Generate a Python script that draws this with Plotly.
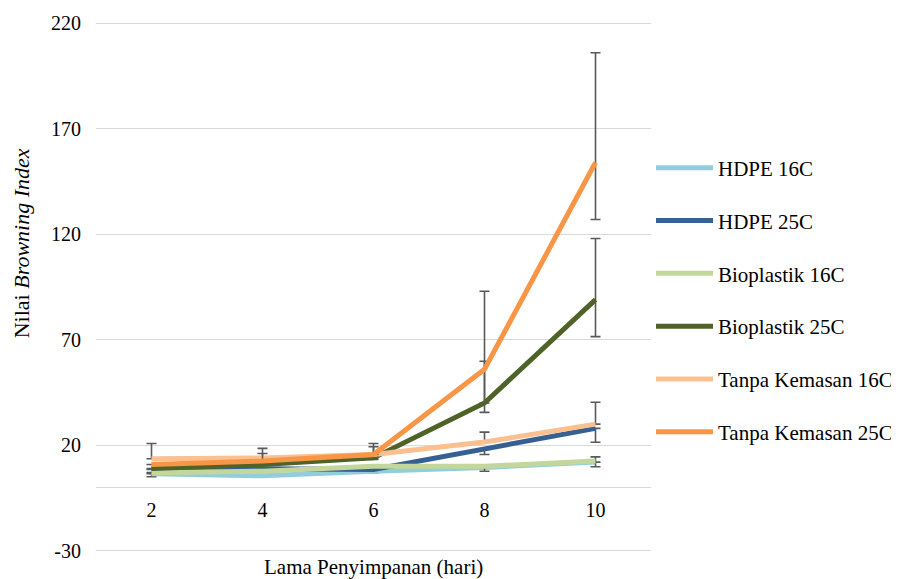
import plotly.graph_objects as go

days = ["2", "4", "6", "8", "10"]
series_names = ["HDPE 16C", "HDPE 25C", "Bioplastik 16C", "Bioplastik 25C",
                "Tanpa Kemasan 16C", "Tanpa Kemasan 25C"]
hdpe_16 = [6.5, 5.5, 7.7, 9.5, 12.0]
hdpe_25 = [8.5, 8.8, 8.5, 18.0, 28.0]
bio_16 = [7.0, 7.7, 10.1, 10.0, 12.5]
bio_25 = [9.0, 10.9, 14.0, 40.0, 89.0]
tanpa_16 = [13.6, 14.0, 15.6, 21.5, 30.0]
tanpa_25 = [10.9, 12.5, 15.6, 56.0, 154.0]

# error bars (plus / minus)
hdpe_16_plus = [0, 0, 0, 0, 0]
hdpe_16_minus = [1.4, 0, 0.7, 0, 0]
hdpe_25_plus = [0, 0, 0, 0, 0]
hdpe_25_minus = [0, 0, 0, 2.4, 6.6]
bio_16_plus = [0, 0, 0, 0, 2.0]
bio_16_minus = [0, 0, 0, 2.3, 2.7]
bio_25_plus = [0, 0, 0, 19.8, 29.0]
bio_25_minus = [0, 0, 0.7, 0, 17.5]
tanpa_16_plus = [7.2, 4.5, 5.2, 4.7, 10.4]
tanpa_16_minus = [0, 0, 0, 0, 0]
tanpa_25_plus = [0, 3.6, 3.7, 37.0, 52.0]
tanpa_25_minus = [0, 0, 0, 20.4, 27.0]

y_ticks = [-30, 20, 70, 120, 170, 220]
y_tick_labels = ["-30", "20", "70", "120", "170", "220"]

values = [hdpe_16, hdpe_25, bio_16, bio_25, tanpa_16, tanpa_25]
plus = [hdpe_16_plus, hdpe_25_plus, bio_16_plus, bio_25_plus, tanpa_16_plus, tanpa_25_plus]
minus = [hdpe_16_minus, hdpe_25_minus, bio_16_minus, bio_25_minus, tanpa_16_minus, tanpa_25_minus]
colors = ["#93cddd", "#376092", "#c3d69b", "#4f6228", "#fac090", "#f79646"]

FONT = "Liberation Serif"

fig = go.Figure()
for i, name in enumerate(series_names):
    fig.add_trace(go.Scatter(
        x=days, y=values[i], name=name, mode="lines",
        line=dict(color=colors[i], width=5),
        legendgroup=name,
        error_y=dict(type="data", symmetric=False, array=plus[i], arrayminus=minus[i],
                     color="#595959", thickness=1.6, width=5),
    ))

# page body adds an 8px offset; margins compensate for it
fig.update_layout(
    width=899, height=579,
    margin=dict(l=88, r=256, t=14, b=35, autoexpand=False),
    paper_bgcolor="white", plot_bgcolor="white",
    font=dict(family=FONT, size=20, color="#000000"),
    showlegend=True,
    legend=dict(x=1.0, xanchor="left", y=0.763, yanchor="top",
                font=dict(family=FONT, size=21, color="#000000"),
                itemwidth=57, tracegroupgap=22.5, traceorder="grouped",
                bgcolor="rgba(0,0,0,0)"),
    xaxis=dict(type="category", showgrid=False, showline=False, ticks="",
               anchor="free", position=(0 + 30.6) / 251.2, ticklabelstandoff=9,
               tickfont=dict(family=FONT, size=20), range=[-0.5, 4.5],
               automargin=False),
    yaxis=dict(range=[-30.6, 220.6], tickvals=y_ticks, ticktext=y_tick_labels,
               showgrid=True, automargin=False,
               gridcolor="#d9d9d9", gridwidth=1.3, zeroline=True,
               zerolinecolor="#d9d9d9", zerolinewidth=1.3, showline=False,
               ticks="", ticklabelstandoff=14,
               tickfont=dict(family=FONT, size=20)),
    annotations=[
        dict(text="Lama Penyimpanan (hari)", x=0.5, y=-0.029, xref="paper", yref="paper",
             xanchor="center", yanchor="middle", showarrow=False,
             font=dict(family=FONT, size=21)),
        dict(text="Nilai <i>Browning Index</i>", x=-0.1346, y=0.583, xref="paper", yref="paper",
             xanchor="center", yanchor="middle", textangle=-90, showarrow=False,
             font=dict(family=FONT, size=22)),
    ],
)

fig.write_html("out.html")
